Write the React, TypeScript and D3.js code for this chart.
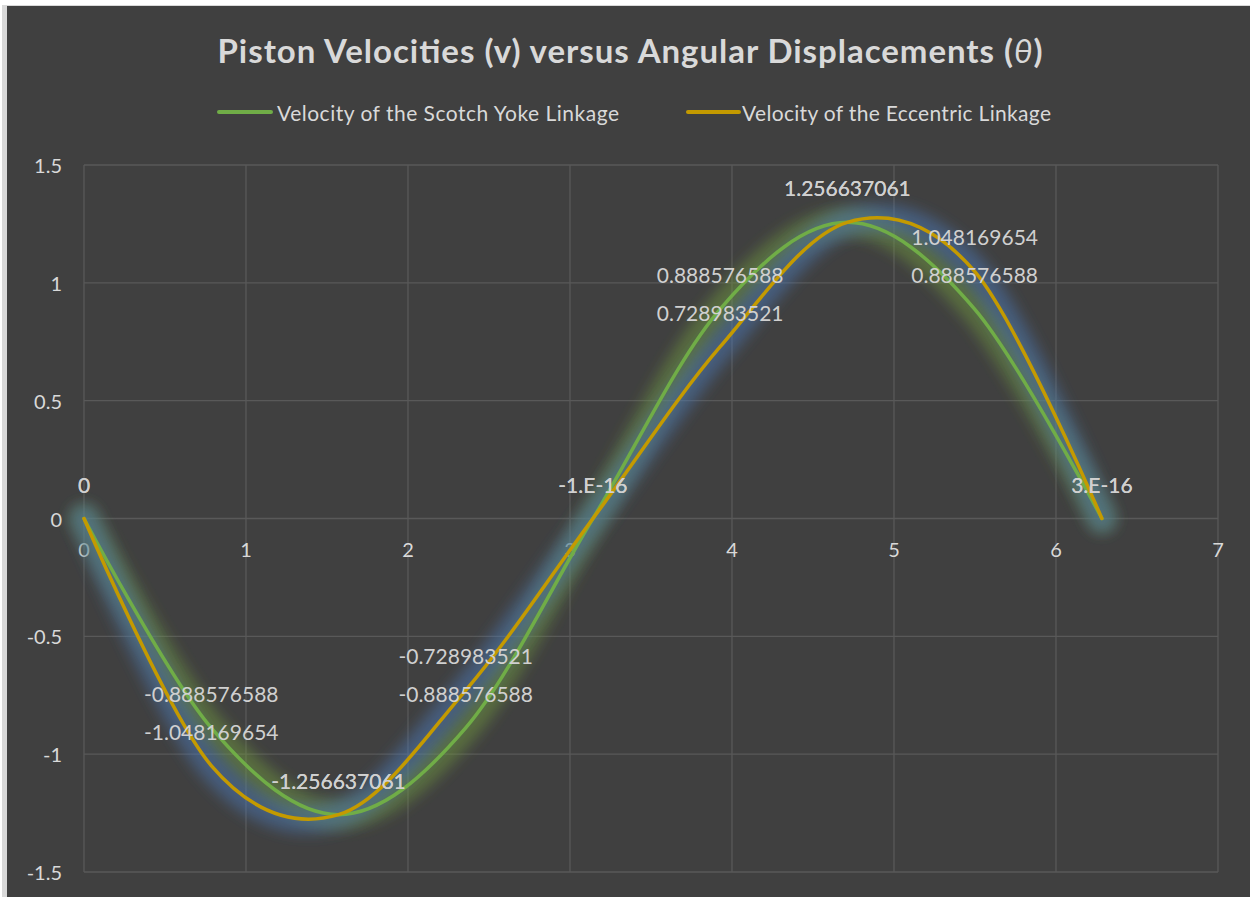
import * as d3 from "d3";

// angular displacement (rad) at each computed point
const theta = [0, 0.785398163, 1.570796327, 2.35619449, 3.141592654, 3.926990817, 4.71238898, 5.497787144, 6.283185307];
const scotchYoke = [0, -0.888576588, -1.256637061, -0.888576588, -1e-16, 0.888576588, 1.256637061, 0.888576588, 3e-16];
const eccentric = [0, -1.048169654, -1.256637061, -0.728983521, -1e-16, 0.728983521, 1.256637061, 1.048169654, 3e-16];
const scotchLabels = ["0", "-0.888576588", "-1.256637061", "-0.888576588", "-1.E-16", "0.888576588", "1.256637061", "0.888576588", "3.E-16"];
const eccentricLabels = ["0", "-1.048169654", "-1.256637061", "-0.728983521", "-1.E-16", "0.728983521", "1.256637061", "1.048169654", "3.E-16"];
const xTicks = [0, 1, 2, 3, 4, 5, 6, 7];
const yTicks = [-1.5, -1, -0.5, 0, 0.5, 1, 1.5];

const W = 1250;
const H = 897;
const FONT = "Lato, 'Open Sans', sans-serif";
const TEXT = "#d9d9d9";

const series = [
  { name: "Velocity of the Scotch Yoke Linkage", values: scotchYoke, labels: scotchLabels, color: "#70ad47", glow: "#6f9a3c" },
  { name: "Velocity of the Eccentric Linkage", values: eccentric, labels: eccentricLabels, color: "#c49a00", glow: "#4a78b8" },
];

export default function App() {
  const x = d3.scaleLinear().domain([0, 7]).range([84, 1218]);
  const y = d3.scaleLinear().domain([-1.5, 1.5]).range([872, 165]);

  // Excel-style smoothing
  const line = d3
    .line<number>()
    .x((_, i) => x(theta[i]))
    .y((d) => y(d))
    .curve(d3.curveCardinal.tension(0));

  return (
    <svg
      width={W}
      height={H}
      style={{ position: "absolute", left: 0, top: 0, fontFamily: FONT }}
    >
      <defs>
        <filter id="glow" x="-20%" y="-20%" width="140%" height="140%">
          <feGaussianBlur stdDeviation="7" />
        </filter>
      </defs>
      <rect width={W} height={H} fill="#fff" />
      <rect x={2} y={5} width={W} height={H} fill="#d9d9d9" />
      <rect x={7} y={6} width={W} height={H} fill="#404040" />

      <text x={630} y={63} textAnchor="middle" fill={TEXT} fontSize={33} fontWeight="bold" textLength={825} lengthAdjust="spacing">
        Piston Velocities (v) versus Angular Displacements (<tspan fontStyle="italic" fontWeight="normal">θ</tspan>)
      </text>

      {/* legend */}
      <g>
        <line x1={219} x2={271} y1={112} y2={112} stroke={series[0].color} strokeWidth={4} strokeLinecap="round" />
        <text x={277} y={112} dominantBaseline="central" fill={TEXT} fontSize={21} textLength={342} lengthAdjust="spacing">
          {series[0].name}
        </text>
        <line x1={688} x2={739} y1={112} y2={112} stroke={series[1].color} strokeWidth={4} strokeLinecap="round" />
        <text x={742} y={112} dominantBaseline="central" fill={TEXT} fontSize={21} textLength={309} lengthAdjust="spacing">
          {series[1].name}
        </text>
      </g>

      {/* gridlines */}
      <g stroke="#595959" strokeWidth={1.3}>
        {xTicks.map((t) => (
          <line key={"vx" + t} x1={x(t)} x2={x(t)} y1={y(1.5)} y2={y(-1.5)} />
        ))}
        {yTicks.map((t) => (
          <line key={"hy" + t} x1={x(0)} x2={x(7)} y1={y(t)} y2={y(t)} />
        ))}
      </g>

      {/* axis labels */}
      <g fill={TEXT} fontSize={20}>
        {yTicks.map((t) => (
          <text key={"yl" + t} x={62} y={y(t)} textAnchor="end" dominantBaseline="central">
            {String(t)}
          </text>
        ))}
        {xTicks.map((t) => (
          <text key={"xl" + t} x={x(t)} y={y(0) + 38} textAnchor="middle">
            {String(t)}
          </text>
        ))}
      </g>

      {/* glow */}
      {series.map((s) => (
        <path
          key={"g" + s.name}
          d={line(s.values) ?? ""}
          fill="none"
          stroke={s.glow}
          strokeOpacity={0.5}
          strokeWidth={28}
          strokeLinecap="round"
          filter="url(#glow)"
        />
      ))}

      {/* lines */}
      {series.map((s) => (
        <path
          key={"l" + s.name}
          d={line(s.values) ?? ""}
          fill="none"
          stroke={s.color}
          strokeWidth={3.5}
          strokeLinecap="round"
          strokeLinejoin="round"
        />
      ))}

      {/* data labels */}
      <g fill="#d0d0d0" fontSize={21} textAnchor="middle">
        {series.map((s) =>
          s.values.map((v, i) => (
            <text key={s.name + i} x={x(theta[i])} y={y(v) - 26}>
              {s.labels[i]}
            </text>
          ))
        )}
      </g>
    </svg>
  );
}
